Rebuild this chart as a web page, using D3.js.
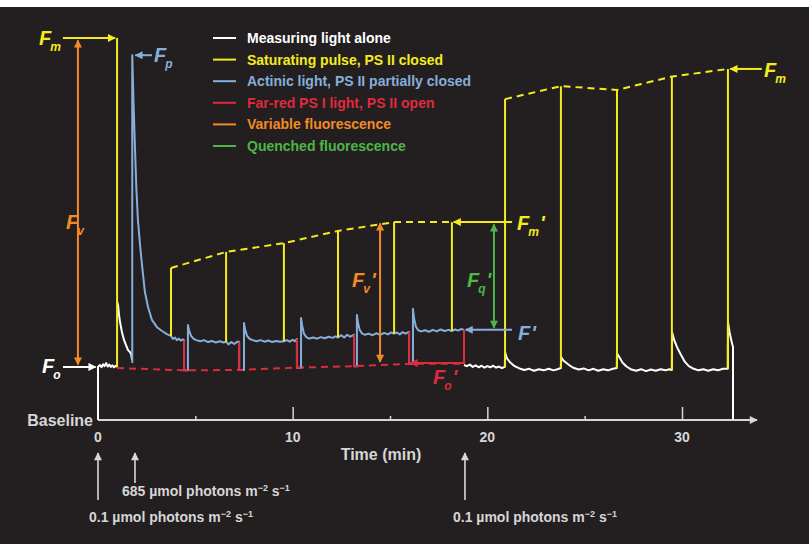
<!DOCTYPE html>
<html><head><meta charset="utf-8">
<script src="https://cdn.jsdelivr.net/npm/d3@7"></script>
<style>
html,body{margin:0;padding:0;background:#fff;}
svg{display:block;}
text{font-family:"Liberation Sans",Arial,Helvetica,sans-serif;font-weight:bold;}
</style></head><body>
<svg id="chart" width="809" height="544"></svg>
<script>
// ---------------- data (time in min, fluorescence in arbitrary units) ----------------
const legendLabels = ["Measuring light alone","Saturating pulse, PS II closed","Actinic light, PS II partially closed","Far-red PS I light, PS II open","Variable fluorescence","Quenched fluorescence"];
const majorTicks = [0,10,20,30];
const minorTicks = [5,15,25];
const tickLabels = ["0","10","20","30"];

// measuring light alone, before the first saturating pulse
const measuringTrace0 = [[0,0],[0,13.9],[0.1,14.4],[0.18,13.8],[0.26,14.6],[0.34,14.1],[0.42,14.9],[0.5,14.0],[0.58,14.5],[0.66,13.9],[0.74,14.3],[0.82,13.8],[0.9,14.2],[0.98,13.9]];
// decay after the first saturating pulse
const measuringTrace1 = [[0.98,31.0],[1.03,30.1],[1.08,27.5],[1.13,25.7],[1.23,23.0],[1.34,20.9],[1.44,19.6],[1.54,18.3],[1.64,17.8],[1.70,17.3],[1.75,15.7]];
// actinic light phase
const actinicTrace = [[1.76,14.9],[1.76,95.5],[1.82,83.8],[1.90,71.2],[1.97,60.7],[2.05,52.4],[2.16,45.8],[2.26,40.6],[2.41,33.5],[2.57,29.6],[2.77,26.2],[3.03,24.3],[3.29,23.3],[3.54,22.5],[3.75,22.0],
 [3.85,21.2],[3.95,21.6],[4.05,20.9],[4.15,21.3],[4.25,20.8],[4.35,21.1],[4.42,20.9],
 [4.42,13.0],[4.62,13.0],[4.62,24.9],[4.68,23.4],[4.78,22.0],[4.9,21.3],[5.05,20.9],[5.25,20.6],[5.45,20.9],[5.65,20.4],[5.85,20.7],[6.05,20.3],[6.25,20.6],[6.45,20.3],[6.58,20.5],[6.7,19.8],[6.85,20.4],[7.0,19.9],[7.15,20.5],[7.25,20.5],
 [7.25,13.1],[7.5,13.1],[7.5,25.4],[7.56,23.6],[7.66,22.0],[7.8,21.2],[7.95,20.9],[8.15,20.6],[8.35,20.9],[8.55,20.5],[8.75,20.8],[8.95,20.4],[9.15,20.7],[9.35,20.5],[9.55,20.6],[9.7,20.9],[9.85,20.5],[10.0,21.0],[10.1,20.6],[10.22,21.2],
 [10.22,13.7],[10.43,13.7],[10.43,26.7],[10.49,24.6],[10.58,22.6],[10.7,21.7],[10.85,21.3],[11.05,21.6],[11.25,21.3],[11.45,21.7],[11.65,21.4],[11.85,21.8],[12.05,21.5],[12.2,21.9],[12.33,21.6],[12.5,22.2],[12.65,21.6],[12.8,22.3],[12.95,21.8],[13.15,22.3],
 [13.15,14.1],[13.3,14.1],[13.3,27.5],[13.36,25.3],[13.45,23.5],[13.57,22.6],[13.72,22.3],[13.9,22.6],[14.1,22.2],[14.3,22.7],[14.5,22.3],[14.7,22.8],[14.9,22.4],[15.05,22.9],[15.21,22.6],[15.35,22.9],[15.5,22.4],[15.65,23.0],[15.8,22.6],[15.98,23.1],
 [15.98,14.7],[16.18,14.7],[16.18,29.1],[16.24,26.5],[16.33,24.4],[16.45,23.5],[16.6,23.2],[16.8,23.5],[17.0,23.1],[17.2,23.6],[17.4,23.2],[17.6,23.7],[17.8,23.3],[18.0,23.6],[18.18,23.3],[18.35,23.7],[18.5,23.4],[18.65,23.8],[18.8,23.6]];
// measuring light alone after actinic light is switched off
const measuringTrace2 = [[18.8,14.4],[18.95,14.1],[19.1,14.5],[19.25,13.9],[19.4,14.3],[19.55,13.8],[19.7,14.2],[19.85,13.7],[20.0,14.1],[20.15,13.8],[20.3,14.2],[20.45,13.7],[20.6,14.0],[20.75,13.6],[20.9,13.9],
 [20.91,17.8],[21.0,16.2],[21.15,15.2],[21.4,14.1],[21.65,13.5],[21.9,13.1],[22.15,13.4],[22.4,12.9],[22.65,13.3],[22.9,13.0],[23.15,13.4],[23.4,13.0],[23.6,13.3],[23.78,13.6],
 [23.79,16.5],[23.9,15.6],[24.05,15.0],[24.25,14.2],[24.45,13.6],[24.7,13.2],[24.95,13.5],[25.2,13.0],[25.45,13.4],[25.7,12.9],[25.95,13.3],[26.2,13.0],[26.45,13.4],[26.65,13.6],
 [26.66,17.5],[26.8,16.3],[26.95,15.0],[27.15,14.0],[27.4,13.2],[27.65,12.9],[27.9,13.3],[28.15,12.8],[28.4,13.2],[28.65,12.9],[28.9,13.3],[29.15,13.0],[29.35,13.3],[29.48,13.1],
 [29.49,23.0],[29.6,20.9],[29.75,19.0],[29.95,17.0],[30.15,15.2],[30.35,14.1],[30.6,13.4],[30.85,13.0],[31.1,13.3],[31.35,12.9],[31.6,13.3],[31.85,13.0],[32.1,13.4],[32.35,13.4],
 [32.36,25.7],[32.45,22.8],[32.55,20.5],[32.62,19.1],[32.62,0]];

// saturating pulses
const pulseTimes = [0.98, 3.75, 6.58, 9.55, 12.33, 15.21, 18.18, 20.91, 23.78, 26.66, 29.48, 32.36];
const pulseBase  = [13.9, 22.0, 20.5, 20.6, 21.6, 22.6, 23.3, 13.9, 13.6, 13.6, 13.1, 13.4];
const pulseTop   = [100, 39.8, 44.0, 46.3, 49.5, 51.8, 51.8, 84.0, 87.4, 86.4, 89.9, 91.9];
// far-red periods
const farRedTimes = [4.42, 7.25, 10.22, 13.15, 15.98, 18.8];
const farRedPre   = [20.9, 20.5, 21.2, 22.3, 23.1, 23.6];
const farRedMin   = [13.0, 13.1, 13.7, 14.1, 14.7, 14.7];
const farRedStart = [0.98, 13.6];

// key levels
const Fm = 100, Fo = 13.9, Fp = 95.5, FmPrime = 51.8, FPrime = 23.6, FoPrime = 14.9, FmEnd = 91.9;

// ---------------- drawing ----------------
const W = 809, H = 544;
const C = {bg:"#231f20", white:"#ffffff", axis:"#d6d6d6", yellow:"#f3ec1e", blue:"#86aedb", red:"#df2a3d", orange:"#f28a27", green:"#4fb548"};
const legendColors = [C.white, C.yellow, C.blue, C.red, C.orange, C.green];

const svg = d3.select("#chart");
svg.append("rect").attr("x",0).attr("y",7).attr("width",W).attr("height",H-7).attr("fill",C.bg);

const x = d3.scaleLinear().domain([0,30]).range([98,682]);
const y = d3.scaleLinear().domain([0,100]).range([420,38]);
const line = d3.line().x(d=>x(d[0])).y(d=>y(d[1]));

const defs = svg.append("defs");
function marker(id,color,w,h){
  defs.append("marker").attr("id",id).attr("viewBox","0 0 10 10").attr("refX",9).attr("refY",5)
    .attr("markerWidth",w).attr("markerHeight",h).attr("markerUnits","userSpaceOnUse").attr("orient","auto-start-reverse")
    .append("path").attr("d","M0,0 L10,5 L0,10 Z").attr("fill",color);
}
Object.entries(C).forEach(([k,v])=>marker("arr-"+k,v,10,8));

// axis
const ax = svg.append("g");
ax.append("line").attr("x1",x(0)).attr("x2",757).attr("y1",y(0)).attr("y2",y(0))
  .attr("stroke",C.axis).attr("stroke-width",2).attr("marker-end","url(#arr-axis)");
ax.append("g").attr("transform",`translate(0,${y(0)})`)
  .call(d3.axisTop(x).tickValues(majorTicks.slice(1)).tickSize(13).tickFormat(""))
  .call(g=>{g.select(".domain").remove(); g.selectAll("line").attr("stroke",C.axis).attr("stroke-width",1.5);});
ax.append("g").attr("transform",`translate(0,${y(0)})`)
  .call(d3.axisTop(x).tickValues(minorTicks).tickSize(4).tickFormat(""))
  .call(g=>{g.select(".domain").remove(); g.selectAll("line").attr("stroke",C.axis).attr("stroke-width",1.5);});
ax.selectAll(".tl").data(majorTicks).join("text").attr("class","tl")
  .attr("x",d=>x(d)).attr("y",442).attr("text-anchor","middle").attr("font-size",14).attr("fill",C.axis)
  .text((d,i)=>tickLabels[i]);
ax.append("text").attr("x",381).attr("y",460).attr("text-anchor","middle").attr("font-size",16).attr("fill",C.axis).text("Time (min)");
ax.append("text").attr("x",93).attr("y",426).attr("text-anchor","end").attr("font-size",16).attr("fill",C.axis).text("Baseline");

// light-change arrows below the axis
function upArrow(t,y1){
  svg.append("line").attr("x1",x(t)).attr("x2",x(t)).attr("y1",y1).attr("y2",453)
    .attr("stroke",C.axis).attr("stroke-width",1.6).attr("marker-end","url(#arr-axis)");
}
upArrow(0,500); upArrow(1.9,483); upArrow(18.85,500);
function photonLabel(px,py,val){
  const t = svg.append("text").attr("x",px).attr("y",py).attr("font-size",14).attr("fill",C.axis);
  t.append("tspan").text(val+" µmol photons m");
  t.append("tspan").attr("font-size",9).attr("dy",-5).text("−2");
  t.append("tspan").attr("font-size",14).attr("dy",5).text(" s");
  t.append("tspan").attr("font-size",9).attr("dy",-5).text("−1");
}
photonLabel(122,496,"685");
photonLabel(89,522,"0.1");
photonLabel(453,522,"0.1");

// dashed connecting lines
const dashed = (pts,color)=>svg.append("path").attr("d",line(pts)).attr("fill","none").attr("stroke",color)
  .attr("stroke-width",2).attr("stroke-dasharray","7,5");
dashed(pulseTimes.slice(1,7).map((t,i)=>[t,pulseTop[i+1]]), C.yellow);
dashed(pulseTimes.slice(7).map((t,i)=>[t,pulseTop[i+7]]), C.yellow);
dashed([farRedStart].concat(farRedTimes.map((t,i)=>[t,farRedMin[i]])), C.red);

// traces
const trace = (pts,color)=>svg.append("path").attr("d",line(pts)).attr("fill","none").attr("stroke",color)
  .attr("stroke-width",2).attr("stroke-linejoin","round");
trace(measuringTrace0, C.white);
trace(measuringTrace1, C.white);
trace(measuringTrace2, C.white);
trace(actinicTrace, C.blue);

// far-red segments
farRedTimes.forEach((t,i)=>{
  const pts = i<farRedTimes.length-1 ? [[t,farRedPre[i]],[t,farRedMin[i]],[farRedTimes[i]+0.2,farRedMin[i]]] : [[t,farRedPre[i]],[t,farRedMin[i]]];
  trace(pts, C.red);
});
// saturating pulses
pulseTimes.forEach((t,i)=>trace([[t,pulseBase[i]],[t,pulseTop[i]]], C.yellow));

// annotation arrows
function arrow(p1,p2,color,dbl){
  const l = svg.append("line").attr("x1",x(p1[0])).attr("y1",y(p1[1])).attr("x2",x(p2[0])).attr("y2",y(p2[1]))
    .attr("stroke",color).attr("stroke-width",2).attr("marker-end",`url(#arr-${color})`);
  if(dbl) l.attr("marker-start",`url(#arr-${color})`);
}
// marker ids use color keys
function arrowK(p1,p2,key,dbl){
  const l = svg.append("line").attr("x1",x(p1[0])).attr("y1",y(p1[1])).attr("x2",x(p2[0])).attr("y2",y(p2[1]))
    .attr("stroke",C[key]).attr("stroke-width",2).attr("marker-end",`url(#arr-${key})`);
  if(dbl) l.attr("marker-start",`url(#arr-${key})`);
}
arrowK([-1.8,Fm],[0.88,Fm],"yellow");
arrowK([-1.8,Fo],[-0.12,Fo],"white");
arrowK([-1.03,Fm-0.6],[-1.03,Fo+0.6],"orange",true);
arrowK([2.77,Fp],[1.92,Fp],"blue");
arrowK([14.49,FmPrime-0.3],[14.49,15.2],"orange",true);
arrowK([20.34,FmPrime-0.6],[20.34,FPrime+0.5],"green",true);
arrowK([21.27,FmPrime],[18.27,FmPrime],"yellow");
arrowK([21.27,FPrime],[18.88,FPrime],"blue");
arrowK([18.75,FoPrime],[16.05,FoPrime],"red");
arrowK([34.1,FmEnd],[32.48,FmEnd],"yellow");

// F labels
function flabel(px,py,sub,prime,color){
  const t = svg.append("text").attr("x",px).attr("y",py).attr("font-size",20).attr("font-style","italic").attr("fill",color);
  t.append("tspan").text("F");
  if(sub) t.append("tspan").attr("font-size",12).attr("dx",-1).attr("dy",6).text(sub);
  if(prime) t.append("tspan").attr("font-size",20).attr("dx",1).attr("dy",sub?-6:0).text("'");
}
flabel(39,45,"m",false,C.yellow);
flabel(42,373,"o",false,C.white);
flabel(154,62,"p",false,C.blue);
flabel(66,229,"v",false,C.orange);
flabel(352,287,"v",true,C.orange);
flabel(467,287,"q",true,C.green);
flabel(517,230,"m",true,C.yellow);
flabel(518,340,null,true,C.blue);
flabel(433,384,"o",true,C.red);
flabel(764,77,"m",false,C.yellow);

// legend
const lg = svg.append("g");
legendLabels.forEach((lab,i)=>{
  const cy = 38 + i*21.6;
  lg.append("line").attr("x1",213).attr("x2",236).attr("y1",cy).attr("y2",cy).attr("stroke",legendColors[i]).attr("stroke-width",2);
  lg.append("text").attr("x",247).attr("y",cy+5).attr("font-size",14).attr("fill",legendColors[i]).text(lab);
});
</script></body></html>
